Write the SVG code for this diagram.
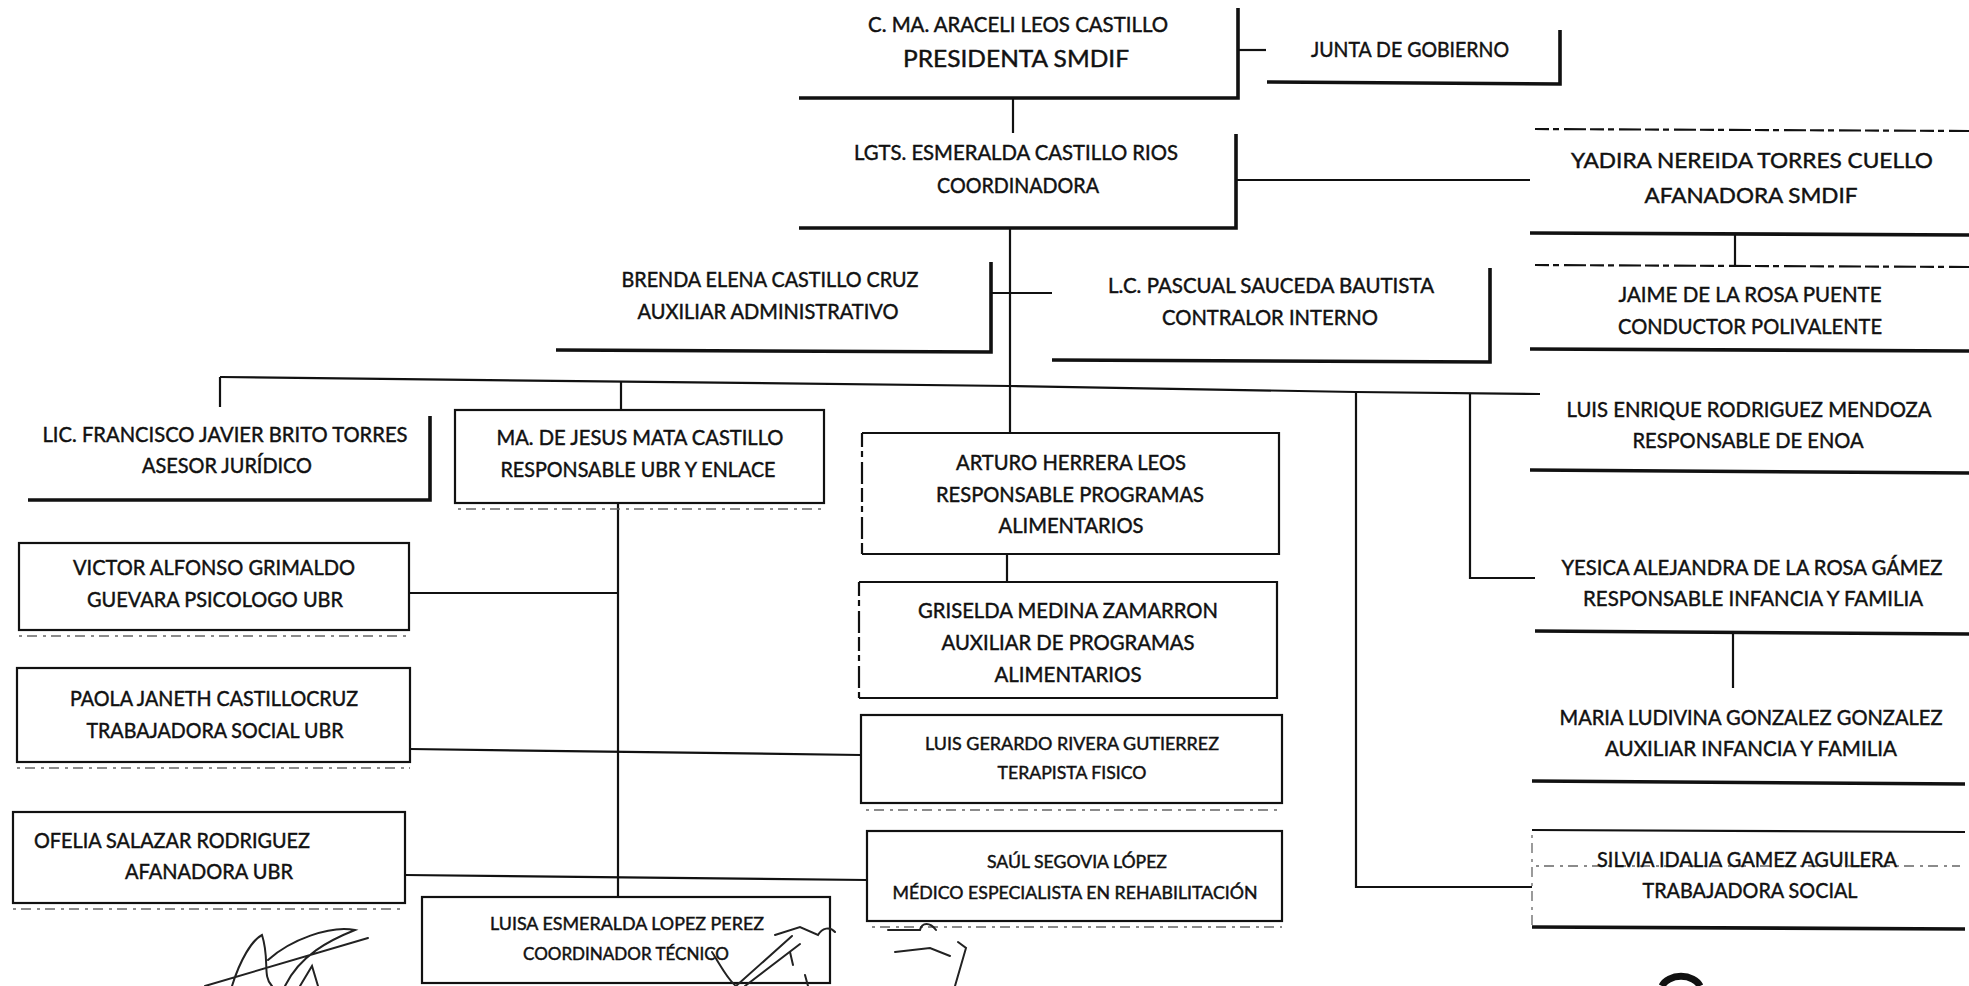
<svg xmlns="http://www.w3.org/2000/svg" width="1969" height="986" viewBox="0 0 1969 986">
<style>
.t{font-family:Lato,"Open Sans","Liberation Sans",sans-serif;fill:#111;stroke:#111;stroke-width:0.45;text-anchor:middle;font-size:21px}
.s{text-anchor:start}
.big{font-size:24px}
.r{font-size:22px}
.rw{font-size:20.5px}
.sm{font-size:18px}
.ln{stroke:#111;stroke-width:2.2;fill:none}
.th{stroke-width:3.6}
.box{fill:none;stroke:#111;stroke-width:2.2}
.dsh{stroke-dasharray:14 4 6 5 22 4}
.dot{stroke:#666;stroke-width:1.3;stroke-dasharray:3 5 10 6}
.sig{fill:none;stroke:#222;stroke-width:2;stroke-linecap:round}
</style>
<rect width="1969" height="986" fill="#fff"/>
<g id="connectors">
<path class="ln" d="M1238 50H1266"/>
<path class="ln" d="M1013 98V133"/>
<path class="ln" d="M1237 180H1530"/>
<path class="ln" d="M1735 233V265"/>
<path class="ln" d="M1010 228V433"/>
<path class="ln" d="M991 293H1052"/>
<path class="ln" d="M220 377L1010 386L1356 392L1540 394"/>
<path class="ln" d="M220 377V407"/>
<path class="ln" d="M621 382V410"/>
<path class="ln" d="M618 503V897"/>
<path class="ln" d="M409 593H618"/>
<path class="ln" d="M410 749L861 755"/>
<path class="ln" d="M405 875L867 880"/>
<path class="ln" d="M1007 554V582"/>
<path class="ln" d="M1356 392V887H1532"/>
<path class="ln" d="M1470 393V578H1535"/>
<path class="ln" d="M1733 633V688"/>
</g>
<g id="presidenta">
<path class="ln th" d="M799 98H1238V8"/>
<text class="t" x="1018" y="32" textLength="300" lengthAdjust="spacingAndGlyphs">C. MA. ARACELI LEOS CASTILLO</text>
<text class="t big" x="1016" y="67" textLength="226" lengthAdjust="spacingAndGlyphs">PRESIDENTA SMDIF</text>
</g>
<g id="junta">
<path class="ln th" d="M1267 82L1560 84V30"/>
<text class="t" x="1410" y="57" textLength="198" lengthAdjust="spacingAndGlyphs">JUNTA DE GOBIERNO</text>
</g>
<g id="coordinadora">
<path class="ln th" d="M799 228H1236V134"/>
<text class="t" x="1016" y="160" textLength="324" lengthAdjust="spacingAndGlyphs">LGTS. ESMERALDA CASTILLO RIOS</text>
<text class="t" x="1018" y="193" textLength="162" lengthAdjust="spacingAndGlyphs">COORDINADORA</text>
</g>
<g id="yadira">
<path class="ln dsh" d="M1535 129L1969 131"/>
<path class="ln th" d="M1530 233L1969 235"/>
<text class="t r" x="1752" y="168" textLength="362" lengthAdjust="spacingAndGlyphs">YADIRA NEREIDA TORRES CUELLO</text>
<text class="t r" x="1751" y="203" textLength="213" lengthAdjust="spacingAndGlyphs">AFANADORA SMDIF</text>
</g>
<g id="jaime">
<path class="ln dsh" d="M1535 265L1969 267"/>
<path class="ln th" d="M1530 349L1969 351"/>
<text class="t r" x="1750" y="302" textLength="263" lengthAdjust="spacingAndGlyphs">JAIME DE LA ROSA PUENTE</text>
<text class="t r" x="1750" y="334" textLength="264" lengthAdjust="spacingAndGlyphs">CONDUCTOR POLIVALENTE</text>
</g>
<g id="brenda">
<path class="ln th" d="M556 350L991 352V262"/>
<text class="t" x="770" y="287" textLength="297" lengthAdjust="spacingAndGlyphs">BRENDA ELENA CASTILLO CRUZ</text>
<text class="t" x="768" y="319" textLength="261" lengthAdjust="spacingAndGlyphs">AUXILIAR ADMINISTRATIVO</text>
</g>
<g id="pascual">
<path class="ln th" d="M1052 360L1490 362V268"/>
<text class="t" x="1271" y="293" textLength="326" lengthAdjust="spacingAndGlyphs">L.C. PASCUAL SAUCEDA BAUTISTA</text>
<text class="t" x="1270" y="325" textLength="216" lengthAdjust="spacingAndGlyphs">CONTRALOR INTERNO</text>
</g>
<g id="francisco">
<path class="ln th" d="M28 500H430V416"/>
<text class="t" x="225" y="442" textLength="365" lengthAdjust="spacingAndGlyphs">LIC. FRANCISCO JAVIER BRITO TORRES</text>
<text class="t" x="227" y="473" textLength="170" lengthAdjust="spacingAndGlyphs">ASESOR JURÍDICO</text>
</g>
<g id="majesus">
<rect class="box" x="455" y="410" width="369" height="93"/>
<path class="dot" d="M458 509H824"/>
<text class="t" x="640" y="445" textLength="287" lengthAdjust="spacingAndGlyphs">MA. DE JESUS MATA CASTILLO</text>
<text class="t" x="638" y="477" textLength="275" lengthAdjust="spacingAndGlyphs">RESPONSABLE UBR Y ENLACE</text>
</g>
<g id="victor">
<rect class="box" x="19" y="543" width="390" height="87"/>
<path class="dot" d="M19 636H409"/>
<text class="t" x="214" y="575" textLength="282" lengthAdjust="spacingAndGlyphs">VICTOR ALFONSO GRIMALDO</text>
<text class="t" x="215" y="607" textLength="256" lengthAdjust="spacingAndGlyphs">GUEVARA PSICOLOGO UBR</text>
</g>
<g id="paola">
<rect class="box" x="17" y="668" width="393" height="94"/>
<path class="dot" d="M17 768H410"/>
<text class="t" x="214" y="706" textLength="288" lengthAdjust="spacingAndGlyphs">PAOLA JANETH CASTILLOCRUZ</text>
<text class="t" x="215" y="738" textLength="257" lengthAdjust="spacingAndGlyphs">TRABAJADORA SOCIAL UBR</text>
</g>
<g id="ofelia">
<rect class="box" x="13" y="812" width="392" height="91"/>
<path class="dot" d="M13 909H405"/>
<text class="t s" x="34" y="848" textLength="276" lengthAdjust="spacingAndGlyphs">OFELIA SALAZAR RODRIGUEZ</text>
<text class="t s" x="125" y="879" textLength="168" lengthAdjust="spacingAndGlyphs">AFANADORA UBR</text>
</g>
<g id="luisa">
<rect class="box" x="422" y="897" width="408" height="86"/>
<text class="t sm" x="627" y="930" textLength="274" lengthAdjust="spacingAndGlyphs">LUISA ESMERALDA LOPEZ PEREZ</text>
<text class="t sm" x="626" y="960" textLength="206" lengthAdjust="spacingAndGlyphs">COORDINADOR TÉCNICO</text>
</g>
<g id="arturo">
<path class="ln" d="M862 433H1279V554H862"/>
<path class="ln dsh" d="M862 433V554"/>
<text class="t" x="1071" y="470" textLength="230" lengthAdjust="spacingAndGlyphs">ARTURO HERRERA LEOS</text>
<text class="t" x="1070" y="502" textLength="268" lengthAdjust="spacingAndGlyphs">RESPONSABLE PROGRAMAS</text>
<text class="t" x="1071" y="533" textLength="145" lengthAdjust="spacingAndGlyphs">ALIMENTARIOS</text>
</g>
<g id="griselda">
<path class="ln" d="M859 582H1277V698H859"/>
<path class="ln dsh" d="M859 582V698"/>
<text class="t" x="1068" y="618" textLength="300" lengthAdjust="spacingAndGlyphs">GRISELDA MEDINA ZAMARRON</text>
<text class="t" x="1068" y="650" textLength="253" lengthAdjust="spacingAndGlyphs">AUXILIAR DE PROGRAMAS</text>
<text class="t" x="1068" y="682" textLength="147" lengthAdjust="spacingAndGlyphs">ALIMENTARIOS</text>
</g>
<g id="gerardo">
<rect class="box" x="861" y="715" width="421" height="88"/>
<path class="dot" d="M866 810H1282"/>
<text class="t sm" x="1072" y="750" textLength="294" lengthAdjust="spacingAndGlyphs">LUIS GERARDO RIVERA GUTIERREZ</text>
<text class="t sm" x="1072" y="779" textLength="149" lengthAdjust="spacingAndGlyphs">TERAPISTA FISICO</text>
</g>
<g id="saul">
<rect class="box" x="867" y="831" width="415" height="90"/>
<path class="dot" d="M872 927H1282"/>
<text class="t sm" x="1077" y="868" textLength="180" lengthAdjust="spacingAndGlyphs">SAÚL SEGOVIA LÓPEZ</text>
<text class="t sm" x="1075" y="899" textLength="365" lengthAdjust="spacingAndGlyphs">MÉDICO ESPECIALISTA EN REHABILITACIÓN</text>
</g>
<g id="enoa">
<path class="ln th" d="M1530 470L1969 473"/>
<text class="t r" x="1749" y="417" textLength="365" lengthAdjust="spacingAndGlyphs">LUIS ENRIQUE RODRIGUEZ MENDOZA</text>
<text class="t r" x="1748" y="448" textLength="231" lengthAdjust="spacingAndGlyphs">RESPONSABLE DE ENOA</text>
</g>
<g id="yesica">
<path class="ln th" d="M1535 631L1969 634"/>
<text class="t rw" x="1752" y="575" textLength="381" lengthAdjust="spacingAndGlyphs">YESICA ALEJANDRA DE LA ROSA GÁMEZ</text>
<text class="t r" x="1753" y="606" textLength="340" lengthAdjust="spacingAndGlyphs">RESPONSABLE INFANCIA Y FAMILIA</text>
</g>
<g id="maria">
<path class="ln th" d="M1532 781L1965 784"/>
<text class="t rw" x="1751" y="725" textLength="383" lengthAdjust="spacingAndGlyphs">MARIA LUDIVINA GONZALEZ GONZALEZ</text>
<text class="t r" x="1751" y="756" textLength="292" lengthAdjust="spacingAndGlyphs">AUXILIAR INFANCIA Y FAMILIA</text>
</g>
<g id="silvia">
<path class="ln" d="M1532 830L1965 832"/>
<path class="ln th" d="M1532 927L1965 929"/>
<path class="dot" d="M1532 835V927"/>
<path class="dot" d="M1536 866H1960"/>
<text class="t r" x="1747" y="867" textLength="300" lengthAdjust="spacingAndGlyphs">SILVIA IDALIA GAMEZ AGUILERA</text>
<text class="t r" x="1750" y="898" textLength="215" lengthAdjust="spacingAndGlyphs">TRABAJADORA SOCIAL</text>
</g>
<g id="marks">
<path class="sig" d="M205 986L368 938M232 986C240 960 252 940 262 935C270 960 262 976 272 986M268 960C290 940 330 925 355 930C330 940 300 955 285 986M300 986L312 966L318 986"/>
<path class="sig" d="M712 952C722 968 728 980 736 986M736 986L792 936M745 986L800 944"/>
<path class="sig" d="M775 935L800 927L818 935C822 928 830 926 835 932M790 952L793 965M805 975L808 986"/>
<path class="sig" d="M888 930H920C922 922 930 922 936 930M895 952L930 948L950 956M958 942L966 948L955 986"/>
<path d="M1662 986A20 14 0 0 1 1700 986" fill="none" stroke="#111" stroke-width="7"/>
</g>
</svg>
